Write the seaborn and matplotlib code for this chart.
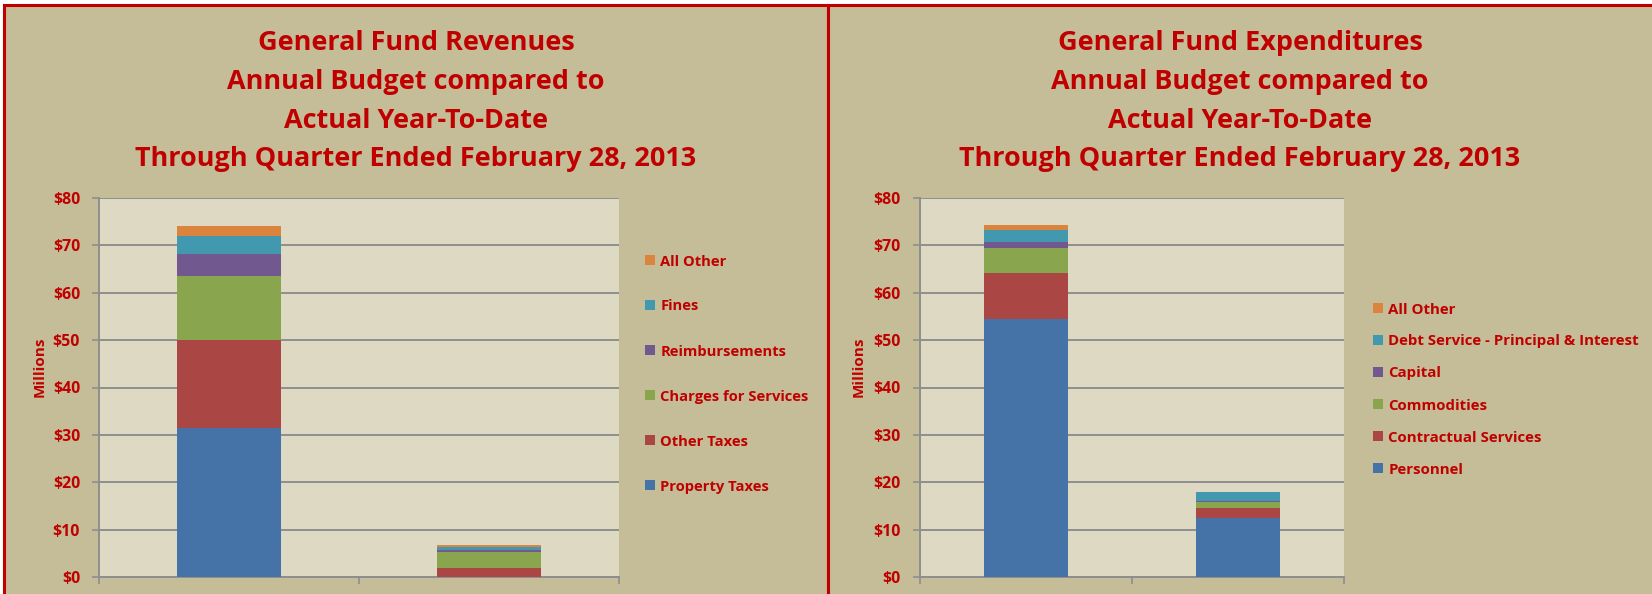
import matplotlib
matplotlib.use("Agg")
import matplotlib.pyplot as plt
import matplotlib.font_manager as fm
from matplotlib.font_manager import FontProperties
from matplotlib.textpath import TextPath
from matplotlib.patches import Patch, Rectangle
from matplotlib.ticker import StrMethodFormatter
import seaborn as sns
import pandas as pd

# ---------------- data ----------------
periods = ["Annual Budget", "Actual Year-To-Date"]

rev_categories = ["Property Taxes", "Other Taxes", "Charges for Services",
                  "Reimbursements", "Fines", "All Other"]
rev_budget = [31.5, 18.5, 13.6, 4.5, 3.9, 2.1]
rev_actual = [0.0, 1.8, 3.4, 0.6, 0.5, 0.4]

exp_categories = ["Personnel", "Contractual Services", "Commodities",
                  "Capital", "Debt Service - Principal & Interest", "All Other"]
exp_budget = [54.5, 9.6, 5.4, 1.3, 2.5, 1.1]
exp_actual = [12.45, 2.15, 1.2, 0.2, 1.9, 0.1]

y_ticks = [0, 10, 20, 30, 40, 50, 60, 70, 80]

rev_title = ["General Fund Revenues", "Annual Budget compared to",
             "Actual Year-To-Date", "Through Quarter Ended February 28, 2013"]
exp_title = ["General Fund Expenditures", "Annual Budget compared to",
             "Actual Year-To-Date", "Through Quarter Ended February 28, 2013"]

# ---------------- style ----------------
colors = ["#4572A7", "#AA4643", "#89A54E", "#71588F", "#4198AF", "#DB843D"]
RED = "#C00000"
PANEL = "#C4BD97"
PLOT_BG = "#DDD9C3"
GRID = "#8E8E8E"
DPI = 100

sns.set_theme(style="white")
plt.rcParams["font.family"] = ["DejaVu Sans"]


def _wnum(w):
    if isinstance(w, (int, float)):
        return w
    return fm.weight_dict.get(str(w), 400)


def _ink(text, prop):
    ext = TextPath((0, 0), text, size=100, prop=prop).get_extents()
    return ext.width, ext.height


def pick_bold_font():
    """Pick the installed bold sans whose proportions best match Calibri Bold."""
    target = 558.0 / 19.3
    sample = "Through Quarter Ended February 28, 2013"
    ok_prefix = ("Noto Sans", "Open Sans", "Roboto", "Lato", "Inter",
                 "Liberation Sans", "DejaVu Sans")
    bad = ("Mono", "Serif", "CJK", "Math", "Emoji", "Symbol", "Display")
    best, best_d = None, 1e9
    seen = set()
    for f in fm.fontManager.ttflist:
        if f.fname in seen:
            continue
        seen.add(f.fname)
        if f.style != "normal" or not (600 <= _wnum(f.weight) <= 750):
            continue
        if not f.name.startswith(ok_prefix) or any(b in f.name for b in bad):
            continue
        try:
            prop = FontProperties(fname=f.fname)
            w, _ = _ink(sample, prop)
            _, h = _ink("H", prop)
            d = abs(w / h - target)
        except Exception:
            continue
        if d < best_d:
            best, best_d = f.fname, d
    return best


FPATH = pick_bold_font()


def base_prop():
    if FPATH:
        return FontProperties(fname=FPATH)
    return FontProperties(family="DejaVu Sans", weight="bold")


def fp_width(text, target_px):
    """Font properties whose size makes `text` about target_px wide."""
    p = base_prop()
    w, _ = _ink(text, p)
    size = target_px / ((w / 100.0) * (DPI / 72.0))
    p.set_size(size)
    return p


W, H = 1652, 594
fig = plt.figure(figsize=(W / DPI, H / DPI), dpi=DPI, facecolor="white")

# panels with red borders
for x0, x1 in [(4, 828), (828, 1662)]:
    fig.add_artist(Rectangle((x0 / W, -0.05), (x1 - x0) / W, (1.05 - 4.5 / H),
                             transform=fig.transFigure, facecolor=PANEL,
                             edgecolor=RED, linewidth=2.2, zorder=0))

title_prop = fp_width("Through Quarter Ended February 28, 2013", 558)
tick_prop = fp_width("$80", 26)
ylab_prop = fp_width("Millions", 58)


def draw(ax_rect, cats, budget, actual, title_lines, title_cx, legend_xy,
         legend_pitch, legend_prop, ylabel_x, tick_pad):
    ax = fig.add_axes(ax_rect)
    ax.set_facecolor(PLOT_BG)
    n = len(cats)
    for i in reversed(range(n)):
        cum = [sum(budget[: i + 1]), sum(actual[: i + 1])]
        df = pd.DataFrame({"period": periods, "value": cum})
        sns.barplot(data=df, x="period", y="value", color=colors[i],
                    width=0.4, saturation=1, errorbar=None, ax=ax,
                    linewidth=0, zorder=3)
    ax.set_xlim(-0.5, 1.5)
    ax.set_ylim(0, 80)
    ax.set_yticks(y_ticks)
    ax.yaxis.set_major_formatter(StrMethodFormatter("${x:,.0f}"))
    ax.set_xticks([-0.5, 0.5, 1.5])
    ax.set_xticklabels(["", "", ""])
    ax.set_xlabel("")
    ax.grid(axis="y", color=GRID, linewidth=1.4, zorder=1)
    ax.set_axisbelow(True)
    for s in ["top", "right"]:
        ax.spines[s].set_visible(False)
    for s in ["left", "bottom"]:
        ax.spines[s].set_color(GRID)
        ax.spines[s].set_linewidth(1.4)
    ax.tick_params(axis="both", direction="out", length=5, width=1.2,
                   color=GRID, labelcolor=RED, left=True, bottom=True)
    ax.tick_params(axis="y", pad=tick_pad)
    for lab in ax.get_yticklabels():
        lab.set_fontproperties(tick_prop)
    ax.set_ylabel("Millions", color=RED, va="center", fontproperties=ylab_prop)
    ax.yaxis.set_label_coords(ylabel_x, 0.555)

    handles = [Patch(facecolor=colors[i], edgecolor="none") for i in reversed(range(n))]
    labels = [cats[i] for i in reversed(range(n))]
    fs_px = legend_prop.get_size_in_points() * DPI / 72.0
    hl = 10.0 / fs_px

    def make_leg(ls):
        lg = ax.legend(handles, labels, loc="center left",
                       bbox_to_anchor=legend_xy, bbox_transform=fig.transFigure,
                       frameon=False, labelspacing=ls,
                       handlelength=hl, handleheight=hl, handletextpad=0.35,
                       borderpad=0, borderaxespad=0, prop=legend_prop)
        for t in lg.get_texts():
            t.set_color(RED)
        return lg

    ls = 1.0
    leg = make_leg(ls)
    for _ in range(3):
        fig.canvas.draw()
        r = fig.canvas.get_renderer()
        ys = [t.get_window_extent(r).y0 for t in leg.get_texts()]
        pitch = (ys[0] - ys[-1]) / (n - 1)
        ls = ls + (legend_pitch - pitch) / fs_px
        leg.remove()
        leg = make_leg(ls)

    baselines = [50.5, 89, 127.5, 166]
    for line, y in zip(title_lines, baselines):
        fig.text(title_cx / W, 1 - y / H, line, ha="center", va="baseline",
                 color=RED, fontproperties=title_prop)
    return ax


bot = (594 - 577) / H
hgt = (577 - 198) / H
draw([99 / W, bot, 520 / W, hgt], rev_categories, rev_budget, rev_actual,
     rev_title, 416, (645 / W, 1 - 374 / H), 45.0,
     fp_width("Charges for Services", 147), -0.1135, 8.6)
draw([920 / W, bot, 424 / W, hgt], exp_categories, exp_budget, exp_actual,
     exp_title, 1240, (1373 / W, 1 - 389.5 / H), 32.0,
     fp_width("Debt Service - Principal & Interest", 249), -0.144, 9.0)

fig.savefig("out.png", dpi=DPI, facecolor="white")
